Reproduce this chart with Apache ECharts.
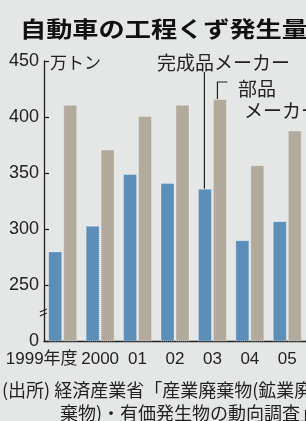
<!DOCTYPE html>
<html>
<head>
<meta charset="utf-8">
<script src="https://cdn.jsdelivr.net/npm/echarts@6/dist/echarts.min.js"></script>
<style>
html, body { margin: 0; padding: 0; background: #e5e7e6; }
#main { width: 306px; height: 421px; }
</style>
</head>
<body>
<div id="main"></div>
<script>
// 自動車の工程くず発生量（万トン）
var years = ['1999年度', '2000', '01', '02', '03', '04', '05'];
var kansei = [280, 303, 349, 341, 336, 290, 307];   // 完成品メーカー
var buhin = [411, 371, 401, 411, 416, 357, 388];    // 部品メーカー
var yTicks = [200, 250, 300, 350, 400, 450];        // 200 stands for the broken 0

var FONT = '"Liberation Sans", "Noto Sans CJK JP", sans-serif';
var JP = '"Noto Sans CJK JP", sans-serif';
var INK = '#222';

var chart = echarts.init(document.getElementById('main'));
chart.setOption({
    backgroundColor: '#e5e7e6',
    animation: false,
    grid: { left: 44, right: -2, top: 61, bottom: 80 },
    xAxis: {
        type: 'category',
        data: years,
        axisLine: { lineStyle: { color: INK, width: 1.3 } },
        axisTick: { show: false },
        axisLabel: {
            color: INK,
            fontSize: 17,
            fontFamily: FONT,
            margin: 10,
            interval: 0,
            formatter: function (v, i) {
                return i === 0 ? '{f|' + v + '}' : v;
            },
            rich: {
                f: { fontSize: 17, fontFamily: FONT, color: INK, padding: [0, 42, 0, 0] }
            }
        }
    },
    yAxis: {
        type: 'value',
        min: yTicks[0],
        max: yTicks[yTicks.length - 1],
        interval: 50,
        axisLine: { show: true, lineStyle: { color: INK, width: 1.3 } },
        axisTick: { show: true, inside: true, length: 5, lineStyle: { color: INK, width: 1.3 } },
        splitLine: { show: false },
        axisLabel: {
            color: INK,
            fontSize: 18,
            fontFamily: FONT,
            margin: 5,
            formatter: function (v) { return v === yTicks[0] ? '0' : v; }
        }
    },
    series: [
        {
            name: '完成品メーカー',
            type: 'bar',
            data: kansei,
            barWidth: 14,
            barGap: '7%',
            itemStyle: { color: '#5b8fba', borderColor: 'rgba(255,255,255,0.55)', borderWidth: 1, borderType: 'dotted' }
        },
        {
            name: '部品メーカー',
            type: 'bar',
            data: buhin,
            barWidth: 14,
            itemStyle: { color: '#b2aa9c', borderColor: 'rgba(255,255,255,0.55)', borderWidth: 1, borderType: 'dotted' }
        }
    ]
});

// annotations placed from the axes
var idx = 4;
var cx = chart.convertToPixel({ xAxisIndex: 0 }, idx);
var yK = chart.convertToPixel({ yAxisIndex: 0 }, kansei[idx]);
var yB = chart.convertToPixel({ yAxisIndex: 0 }, buhin[idx]);
var yBreak = chart.convertToPixel({ yAxisIndex: 0 }, 225);
var axisX = chart.convertToPixel({ xAxisIndex: 0 }, 0) - 37.7 / 2;

function txt(x, y, s, size, opts) {
    return Object.assign({
        type: 'text', x: x, y: y,
        style: { text: s, fill: INK, font: size + 'px ' + JP, verticalAlign: 'middle' }
    }, opts || {});
}

chart.setOption({
    graphic: [
        Object.assign(txt(20, 29, '自動車の工程くず発生量', 22), {
            scaleX: 1.19,
            style: { text: '自動車の工程くず発生量', fill: '#111', font: 'bold 22px ' + JP, verticalAlign: 'middle' }
        }),
        txt(50, 63, '万トン', 17),
        txt(157, 63, '完成品メーカー', 19),
        txt(238, 89, '部品', 19),
        txt(244, 111, 'メーカー', 19),
        { type: 'line', shape: { x1: cx - 8, y1: 72, x2: cx - 8, y2: yK }, style: { stroke: INK, lineWidth: 1.2 } },
        { type: 'polyline', shape: { points: [[cx + 5, yB], [cx + 5, 82], [cx + 15, 82]] }, style: { stroke: INK, lineWidth: 1.2, fill: null } },
        // axis break
        { type: 'rect', shape: { x: axisX - 3, y: yBreak - 2, width: 6, height: 4 }, style: { fill: '#e5e7e6' } },
        { type: 'line', shape: { x1: axisX - 4, y1: yBreak - 1, x2: axisX + 3, y2: yBreak - 4 }, style: { stroke: INK, lineWidth: 1.1 } },
        { type: 'line', shape: { x1: axisX - 4, y1: yBreak + 3, x2: axisX + 3, y2: yBreak }, style: { stroke: INK, lineWidth: 1.1 } },
        txt(2, 390, '(出所) 経済産業省「産業廃棄物(鉱業廃', 18),
        txt(60, 413, '棄物)・有価発生物の動向調査」', 18)
    ]
});
</script>
</body>
</html>
